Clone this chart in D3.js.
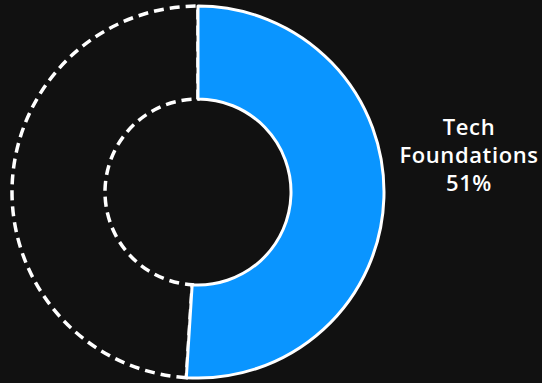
<!DOCTYPE html>
<html>
<head>
<meta charset="utf-8">
<script src="https://cdn.jsdelivr.net/npm/d3@7"></script>
<style>
  body { margin: 0; background: #111111; }
</style>
</head>
<body>
<div class="chart"></div>
<script>
var categories = ["Tech Foundations", "Other"];
var values = [51, 49];

var width = 542, height = 383;
var cx = 198, cy = 192;
var outerR = 186, innerR = 93;

var svg = d3.select(".chart").append("svg")
  .attr("width", width)
  .attr("height", height)
  .style("background", "#111111");

var pie = d3.pie().sort(null).value(function(d) { return d; });
var arcs = pie(values);
var arc = d3.arc().innerRadius(innerR).outerRadius(outerR);

var g = svg.append("g").attr("transform", "translate(" + cx + "," + cy + ")");

// remaining part: dashed outline, no fill
g.append("path")
  .attr("d", arc(arcs[1]))
  .attr("fill", "none")
  .attr("stroke", "white")
  .attr("stroke-width", 3.5)
  .attr("stroke-dasharray", "10,6");

// main slice
g.append("path")
  .attr("d", arc(arcs[0]))
  .attr("fill", "#0a95ff")
  .attr("stroke", "white")
  .attr("stroke-width", 3)
  .attr("stroke-linejoin", "round");

var label = svg.append("text")
  .attr("x", 469)
  .attr("y", 135)
  .attr("text-anchor", "middle")
  .attr("fill", "white")
  .style("font-family", "'Open Sans', sans-serif")
  .style("font-size", "22px")
  .style("font-weight", "600")
  .style("letter-spacing", "0.6px");

var lines = [categories[0].split(" ")[0], categories[0].split(" ")[1], Math.round(values[0]) + "%"];
lines.forEach(function(t, i) {
  label.append("tspan").attr("x", 469).attr("dy", i === 0 ? 0 : 28).text(t);
});
</script>
</body>
</html>
